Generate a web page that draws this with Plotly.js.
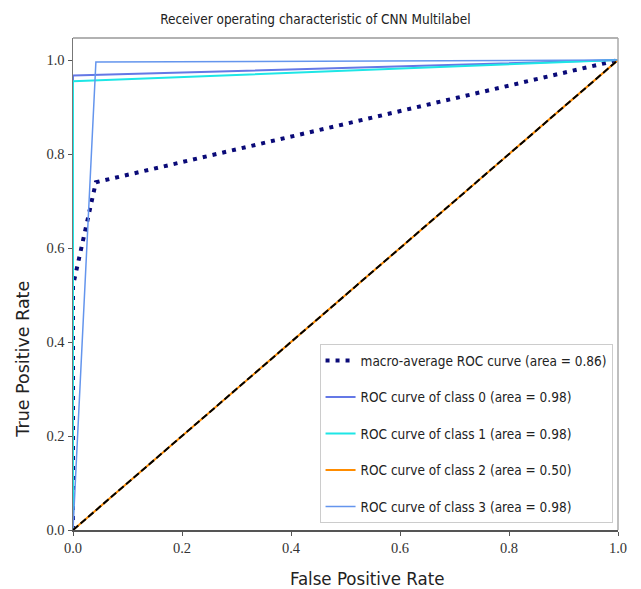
<!DOCTYPE html>
<html>
<head>
<meta charset="utf-8">
<script src="https://cdn.plot.ly/plotly-3.0.1.min.js"></script>
<style>html,body{margin:0;padding:0;background:#fff;}#chart{width:641px;height:589px;}</style>
</head>
<body>
<div id="chart"></div>
<script>
// Data
const macroFpr = [0, 0, 0.042, 1];
const macroTpr = [0, 0.52, 0.74, 1];
const class0Fpr = [0, 0, 1];
const class0Tpr = [0, 0.967, 1];
const class1Fpr = [0, 0, 1];
const class1Tpr = [0, 0.955, 1];
const class2Fpr = [0, 1];
const class2Tpr = [0, 1];
const class3Fpr = [0, 0.042, 1];
const class3Tpr = [0, 0.996, 1];
const chanceX = [0, 1];
const chanceY = [0, 1];
const seriesNames = [
  'macro-average ROC curve (area = 0.86)',
  'ROC curve of class 0 (area = 0.98)',
  'ROC curve of class 1 (area = 0.98)',
  'ROC curve of class 2 (area = 0.50)',
  'ROC curve of class 3 (area = 0.98)'
];
const tickVals = [0, 0.2, 0.4, 0.6, 0.8, 1.0];
const tickText = ['0.0', '0.2', '0.4', '0.6', '0.8', '1.0'];

const narrow = '"Liberation Sans Narrow", "DejaVu Sans Condensed", "Arial Narrow", sans-serif';
const serif = '"Liberation Serif", "DejaVu Serif", serif';

const traces = [
  {x: macroFpr, y: macroTpr, name: seriesNames[0], mode: 'lines', legendgroup: 'g0',
   line: {color: '#0a0a78', width: 4, dash: '4px,6px'}},
  {x: class0Fpr, y: class0Tpr, name: seriesNames[1], mode: 'lines', legendgroup: 'g1',
   line: {color: '#6478e6', width: 2}},
  {x: class1Fpr, y: class1Tpr, name: seriesNames[2], mode: 'lines', legendgroup: 'g2',
   line: {color: '#1ee6e6', width: 2}},
  {x: class2Fpr, y: class2Tpr, name: seriesNames[3], mode: 'lines', legendgroup: 'g3',
   line: {color: '#ff8c00', width: 2}},
  {x: class3Fpr, y: class3Tpr, name: seriesNames[4], mode: 'lines', legendgroup: 'g4',
   line: {color: '#6495ed', width: 1.5}},
  {x: chanceX, y: chanceY, mode: 'lines', showlegend: false, hoverinfo: 'skip',
   line: {color: '#000000', width: 2, dash: '7px,3px'}}
];

const layout = {
  width: 641, height: 589,
  margin: {l: 73, r: 23, t: 38, b: 59},
  paper_bgcolor: '#ffffff', plot_bgcolor: '#ffffff',
  title: {text: 'Receiver operating characteristic of CNN Multilabel',
          font: {family: narrow, size: 13.5, color: '#222'},
          x: 0.492, xanchor: 'center', y: 0.968, yanchor: 'middle'},
  xaxis: {range: [0, 1], tickvals: tickVals, ticktext: tickText,
          showgrid: false, zeroline: false, showline: true, linecolor: '#555', linewidth: 1.5,
          mirror: false, ticks: 'outside', ticklen: 4, tickcolor: '#555',
          tickfont: {family: serif, size: 14.5, color: '#333'}},
  yaxis: {range: [0, 1.047], tickvals: tickVals, ticktext: tickText,
          showgrid: false, zeroline: false, showline: true, linecolor: '#777', linewidth: 1.5,
          ticks: 'outside', ticklen: 4, tickcolor: '#555',
          tickfont: {family: serif, size: 14.5, color: '#333'}},
  annotations: [
    {text: 'False Positive Rate', xref: 'paper', yref: 'paper', x: 0.54, y: -0.098,
     xanchor: 'center', yanchor: 'middle', showarrow: false,
     font: {family: narrow, size: 18.5, color: '#222'}},
    {text: 'True Positive Rate', xref: 'paper', yref: 'paper', x: -0.092, y: 0.348,
     xanchor: 'center', yanchor: 'middle', showarrow: false, textangle: -90,
     font: {family: '"DejaVu Sans", sans-serif', size: 17.5, color: '#222'}}
  ],
  shapes: [
    {type: 'line', xref: 'paper', yref: 'paper', x0: 0, x1: 1, y0: 1, y1: 1, line: {color: '#999', width: 1.5}},
    {type: 'line', xref: 'paper', yref: 'paper', x0: 1, x1: 1, y0: 0, y1: 1, line: {color: '#aaa', width: 1.5}}
  ],
  showlegend: true,
  legend: {x: 0.99, xanchor: 'right', y: 0.014, yanchor: 'bottom',
           bordercolor: '#cccccc', borderwidth: 1, bgcolor: '#ffffff',
           font: {family: narrow, size: 13.5, color: '#222'},
           tracegroupgap: 16, traceorder: 'grouped'}
};

Plotly.newPlot('chart', traces, layout, {displayModeBar: false, staticPlot: true});
</script>
</body>
</html>
